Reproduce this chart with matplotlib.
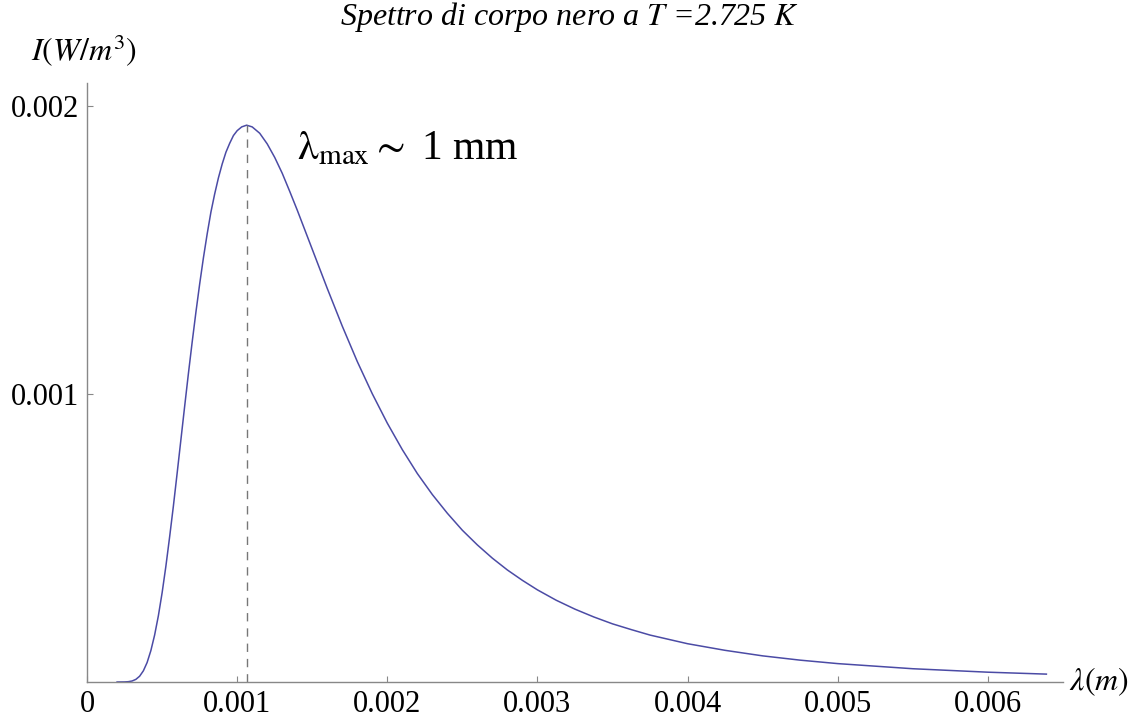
import matplotlib
matplotlib.use("Agg")
import matplotlib.pyplot as plt

plt.rcParams['mathtext.fontset'] = 'stix'
plt.rcParams['font.family'] = ['Liberation Serif', 'DejaVu Serif']

# wavelength (mm) and intensity (W/m^3)
lam_mm = [0.20, 0.25, 0.275, 0.30, 0.325, 0.35, 0.375, 0.40, 0.425, 0.45,
          0.475, 0.50, 0.525, 0.55, 0.575, 0.60, 0.625, 0.65, 0.675, 0.70,
          0.725, 0.75, 0.775, 0.80, 0.825, 0.85, 0.875, 0.90, 0.925, 0.95,
          0.975, 1.00, 1.03, 1.063, 1.10, 1.15, 1.20, 1.25, 1.30, 1.35,
          1.40, 1.45, 1.50, 1.60, 1.70, 1.80, 1.90, 2.00, 2.10, 2.20,
          2.30, 2.40, 2.50, 2.60, 2.70, 2.80, 2.90, 3.00, 3.125, 3.25,
          3.375, 3.50, 3.625, 3.75, 4.00, 4.25, 4.50, 4.75, 5.00, 5.50,
          6.00, 6.39]
intens = [0.0, 0.0000003, 0.0000011, 0.0000035, 0.0000091, 0.000020, 0.0000388, 0.0000677, 0.000109, 0.000163,
          0.000230, 0.000310, 0.000402, 0.000504, 0.000611, 0.000725, 0.000841, 0.000957, 0.001071, 0.001180,
          0.001284, 0.001382, 0.001473, 0.001556, 0.001632, 0.001695, 0.001751, 0.001799, 0.001840, 0.001871,
          0.001898, 0.001915, 0.001928, 0.001934, 0.001928, 0.001906, 0.001869, 0.001822, 0.001767, 0.001704,
          0.001639, 0.001571, 0.001503, 0.001367, 0.001236, 0.001113, 0.001001, 0.000899, 0.000807, 0.000724,
          0.000651, 0.000586, 0.000527, 0.000476, 0.000430, 0.000389, 0.000353, 0.000320, 0.000284, 0.000253,
          0.000226, 0.000202, 0.000182, 0.000163, 0.000133, 0.000110, 0.0000908, 0.0000759, 0.0000639, 0.0000461,
          0.0000341, 0.0000274]
lam_peak = 1.063e-3
I_peak = 0.001934

xticks = [0, 0.001, 0.002, 0.003, 0.004, 0.005, 0.006]
xticklabels = ['0', '0.001', '0.002', '0.003', '0.004', '0.005', '0.006']
yticks = [0.001, 0.002]
yticklabels = ['0.001', '0.002']

lam = [v * 1e-3 for v in lam_mm]

fig = plt.figure(figsize=(11.38, 7.23), dpi=100)
ax = fig.add_axes([0.0765, 0.0567, 0.8575, 0.8283])

ax.plot(lam, intens, color='#4b4ba5', lw=1.1)
ax.plot([lam_peak, lam_peak], [0, I_peak], color='#777777', lw=1.0, ls=(0, (6, 5)))

ax.set_xlim(0, 0.0065)
ax.set_ylim(0, 0.00208)
ax.set_xticks(xticks)
ax.set_xticklabels(xticklabels)
ax.set_yticks(yticks)
ax.set_yticklabels(yticklabels)

for s in ['top', 'right']:
    ax.spines[s].set_visible(False)
for s in ['left', 'bottom']:
    ax.spines[s].set_color('#888888')
    ax.spines[s].set_linewidth(1.0)
ax.tick_params(direction='in', length=4, width=0.8, color='#888888',
               labelsize=22, pad=6)

fig.text(0.5, 1.0, 'Spettro di corpo nero a $T$ =2.725 $K$',
         ha='center', va='top', fontsize=23, style='italic')
fig.text(0.027, 0.905, r'$I(W/m^3)$', fontsize=23, ha='left', va='bottom')
fig.text(0.939, 0.057, r'$\lambda(m)$', fontsize=23, ha='left', va='center')
ax.text(0.00140, 0.00185, r'$\mathrm{\lambda_{max}} \sim$ 1 mm', fontsize=30,
        ha='left', va='center')

fig.savefig('out.png', dpi=100)
